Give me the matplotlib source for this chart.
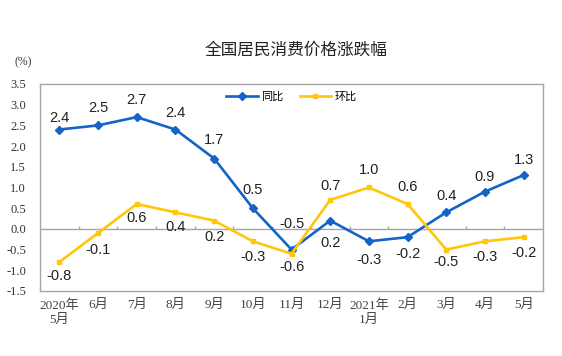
import matplotlib.pyplot as plt
import numpy as np

plt.rcParams['font.family'] = ['Liberation Sans', 'Noto Sans CJK SC']

# Data
months = ['2020年\n5月', '6月', '7月', '8月', '9月', '10月', '11月',
          '12月', '2021年\n1月', '2月', '3月', '4月', '5月']
yoy = [2.4, 2.5, 2.7, 2.4, 1.7, 0.5, -0.5, 0.2, -0.3, -0.2, 0.4, 0.9, 1.3]
mom = [-0.8, -0.1, 0.6, 0.4, 0.2, -0.3, -0.6, 0.7, 1.0, 0.6, -0.5, -0.3, -0.2]

# label offsets in pixels (up positive)
yoy_off = [12, 17, 17, 17, 19, 18, 26, -22, -19, -17, 16, 15, 15]
mom_off = [-14, -17, -14, -15, -16, -16, -13, 14, 17, 17, -12, -16, -16]

blue = '#1562C8'
yellow = '#FFC60A'
gray = '#A6A6A6'

fig = plt.figure(figsize=(5.62, 3.56), dpi=100)
ax = fig.add_axes([0.0712, 0.1826, 0.8950, 0.5815])

x = np.arange(len(months))
ax.plot(x, yoy, color=blue, lw=1.9, marker='D', ms=4, label='同比')
ax.plot(x, mom, color=yellow, lw=1.9, marker='s', ms=3.5, label='环比')

for i in range(len(x)):
    ax.annotate(f'{yoy[i]:.1f}', (x[i], yoy[i]), xytext=(0, yoy_off[i]),
                textcoords='offset pixels', ha='center', va='center',
                fontsize=10.5, color='#222222')
    ax.annotate(f'{mom[i]:.1f}', (x[i], mom[i]), xytext=(0, mom_off[i]),
                textcoords='offset pixels', ha='center', va='center',
                fontsize=10.5, color='#222222')

# zero line with category separators
ax.axhline(0, color=gray, lw=1, zorder=0)
ax.vlines(x[:-1] + 0.5, 0, 0.08, color=gray, lw=1, zorder=0)

ax.set_xlim(-0.5, len(months) - 0.5)
ax.set_ylim(-1.5, 3.5)
ax.set_yticks(np.arange(-1.5, 3.6, 0.5))
ax.set_yticklabels([f'{v:.1f}' for v in np.arange(-1.5, 3.6, 0.5)],
                   family=['Liberation Serif'], fontsize=9, color='#333333')
ax.set_xticks(x)
ax.set_xticklabels(months, family=['Liberation Serif', 'Noto Sans CJK SC'],
                   fontsize=9.5, color='#444444', linespacing=1.2)
ax.tick_params(axis='both', length=0)
ax.tick_params(axis='y', pad=10)
ax.tick_params(axis='x', pad=6)

for s in ax.spines.values():
    s.set_color(gray)
    s.set_linewidth(1)

fig.text(0.025, 0.826, '(%)', family=['Liberation Serif'], fontsize=8.5,
         color='#333333', ha='left', va='center')
fig.text(0.527, 0.86, '全国居民消费价格涨跌幅', family=['Noto Sans CJK SC'],
         fontsize=12, color='#222222', ha='center', va='center')

ax.legend(loc='upper center', bbox_to_anchor=(0.5, 1.01), ncol=2, frameon=False,
          handlelength=2.8, columnspacing=1.5, handletextpad=0.3,
          prop={'family': ['Noto Sans CJK SC'], 'size': 8})

fig.savefig('out.png', dpi=100)
